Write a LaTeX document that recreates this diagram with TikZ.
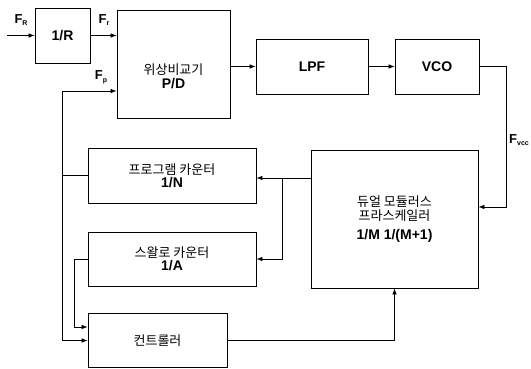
\documentclass[tikz,border=0pt]{standalone}
\usepackage{fontspec}
\setmainfont{Liberation Sans}
\newfontfamily\kr{Noto Sans CJK KR}
\usetikzlibrary{arrows.meta}
\begin{document}
\begin{tikzpicture}[x=1pt,y=-1pt,
  box/.style={draw,line width=0.8pt,inner sep=0pt,align=center,font=\fontsize{14}{16}\selectfont\bfseries},
  btext/.style={inner sep=0pt,align=center,font=\fontsize{14}{16}\selectfont\bfseries},
  arr/.style={line width=0.7pt,-{Latex[length=6pt,width=4.5pt]}},
  ln/.style={line width=0.7pt},
  lbl/.style={font=\fontsize{13}{14}\selectfont\bfseries,inner sep=0pt}]
\useasboundingbox (0,0) rectangle (531,369);
\newcommand\kt[1]{{\kr\mdseries\fontsize{13}{16}\selectfont #1}}
\node[box,minimum width=55,minimum height=55] (R) at (62.5,35.5) {1/R};
\node[box,minimum width=113,minimum height=108] (PD) at (173.5,64) {};
\node[btext] (PDt) at ([yshift=-12pt]PD.center) {\kt{위상비교기}\\[-2pt]P/D};
\node[box,minimum width=112,minimum height=55] (LPF) at (312,66.5) {LPF};
\node[box,minimum width=84,minimum height=55] (VCO) at (437,66.5) {VCO};
\node[box,minimum width=167,minimum height=138] (DU) at (394.5,219) {\kt{듀얼 모듈러스}\\[-2pt]\kt{프라스케일러}\\[3pt]1/M 1/(M+1)};
\node[box,minimum width=168,minimum height=55] (PC) at (172,175.5) {\kt{프로그램 카운터}\\[-3pt]1/N};
\node[box,minimum width=168,minimum height=54] (SC) at (172,259) {\kt{스왈로 카운터}\\[-3pt]1/A};
\node[box,minimum width=139,minimum height=54] (CT) at (157.5,340.5) {\kt{컨트롤러}};
% labels
\node[lbl] (lR) at (21,20) {F\raisebox{-0.4ex}{\fontsize{7}{8}\selectfont R}};
\node[lbl] (lr) at (104,20) {F\raisebox{-0.4ex}{\fontsize{7}{8}\selectfont r}};
\node[lbl] (lp) at (101,77) {F\raisebox{-0.4ex}{\fontsize{7}{8}\selectfont p}};
\node[lbl,anchor=west] (lv) at (509,140) {F\raisebox{-0.4ex}{\fontsize{7}{8}\selectfont vcc}};
% coordinates
\coordinate (in) at (7,35.5);
\coordinate (vr) at (506,207);
\coordinate (b1) at (282,178);
\coordinate (fl) at (62,91);
\coordinate (s1) at (74,327);
% connectors
\draw[arr] (in) -- (R.west);
\draw[arr] (R.east) -- (R.east -| PD.west);
\draw[arr] (LPF.west -| PD.east) -- (LPF.west);
\draw[arr] (LPF.east) -- (VCO.west);
\draw[arr] (VCO.east) -| (vr) -- (vr -| DU.east);
\draw[arr] (b1 -| DU.west) -- (b1 -| PC.east);
\draw[arr] (b1) |- (SC.east);
\draw[ln] (PC.west) -- (PC.west -| fl);
\draw[arr] (fl) -- (fl -| PD.west);
\draw[arr] (fl) |- (CT.west);
\draw[arr] (SC.west) -| (s1) -- (s1 -| CT.west);
\draw[arr] (CT.east) -| (DU.south);
\end{tikzpicture}
\end{document}
